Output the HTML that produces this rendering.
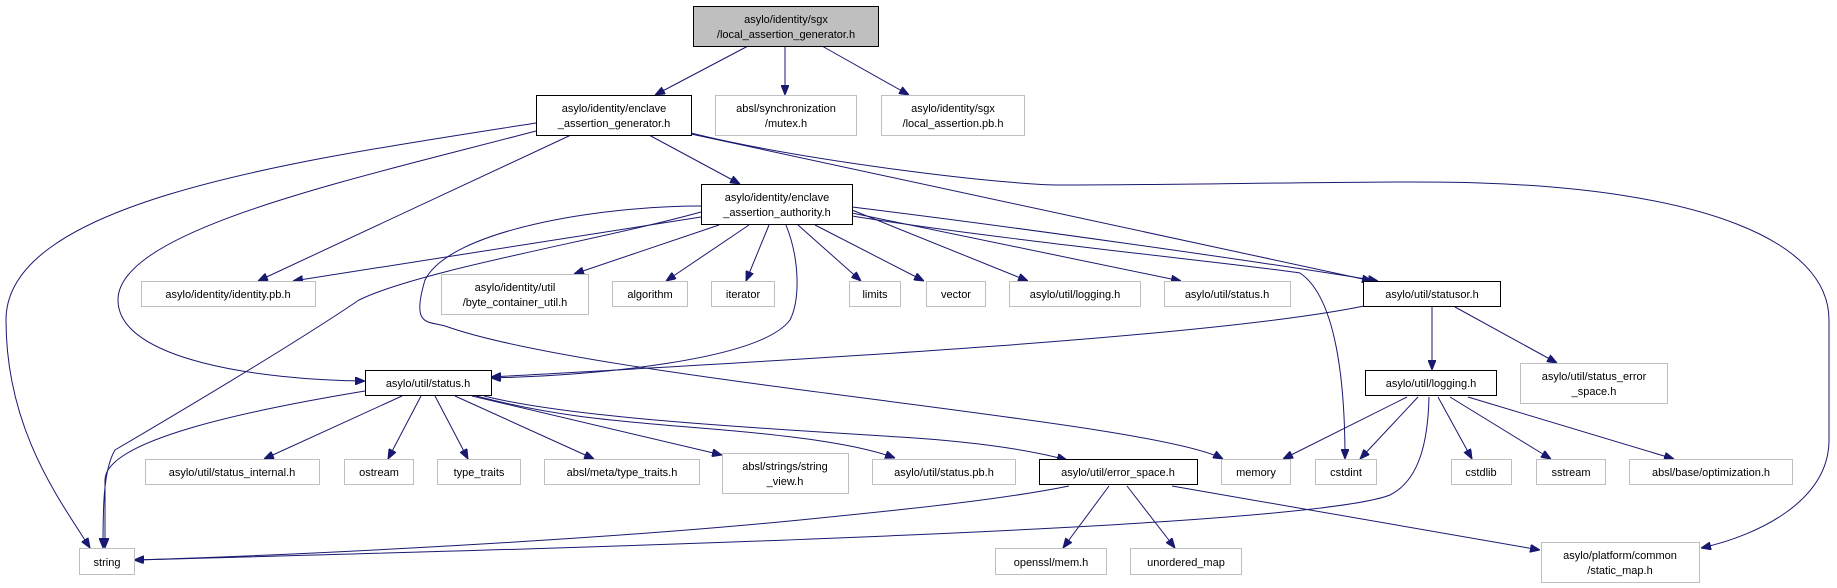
<!DOCTYPE html>
<html><head><meta charset="utf-8"><style>
html,body{margin:0;padding:0;background:#fff;}
svg{display:block}
text{font-family:"Liberation Sans",Helvetica,sans-serif;font-size:11px;fill:#000;text-anchor:middle}
.b{fill:#fff;stroke:#000;stroke-width:1}
.g{fill:#fff;stroke:#bfbfbf;stroke-width:1}
.e{fill:none;stroke:#191970;stroke-width:1}
</style></head><body>
<svg width="1837" height="588" viewBox="0 0 1837 588" xmlns="http://www.w3.org/2000/svg">
<defs>
<marker id="a" viewBox="0 0 10 8" refX="10" refY="4" markerWidth="10" markerHeight="8" markerUnits="userSpaceOnUse" orient="auto">
<path d="M0,0 L10,4 L0,8 z" fill="#191970" stroke="#191970"/>
</marker>
</defs>
<g class="e" marker-end="url(#a)">
<!-- root -->
<path d="M748,46 L655,95"/>
<path d="M785,46 L785,95"/>
<path d="M822,46 L909,95"/>
<!-- gen -->
<path d="M536,123 C300,160 6,200 6,320 C6,430 60,500 90,548"/>
<path d="M536,131 C350,180 118,230 118,300 C118,360 260,380 365,381"/>
<path d="M571,135 L258,281"/>
<path d="M649,135 L740,184"/>
<path d="M691,134 L1372,281"/>
<path d="M691,133 C800,160 1000,185 1061,185 C1200,185 1400,180 1480,183 C1700,190 1829,240 1829,320 L1829,440 C1829,500 1760,535 1701,548"/>
<!-- authority -->
<path d="M701,217 L293,281"/>
<path d="M701,212 C600,240 420,270 359,300 C300,340 200,400 115,450 C103,470 103,510 103,548"/>
<path d="M701,206 C600,206 450,230 425,280 C410,330 430,320 448,327 C600,380 1150,420 1223,459"/>
<path d="M719,225 L574,274"/>
<path d="M749,225 L666,281"/>
<path d="M769,225 L746,281"/>
<path d="M786,225 C800,260 800,300 790,320 C760,360 600,375 491,378"/>
<path d="M798,225 L861,281"/>
<path d="M815,225 L924,281"/>
<path d="M852,210 L1028,281"/>
<path d="M852,213 L1181,281"/>
<path d="M852,216 C1000,240 1250,265 1300,273 C1340,300 1345,400 1345,459"/>
<path d="M852,207 C1000,225 1250,260 1378,281"/>
<!-- statusor -->
<path d="M1364,306 C1200,340 700,365 491,377"/>
<path d="M1432,307 L1432,370"/>
<path d="M1455,307 L1557,363"/>
<!-- status.h -->
<path d="M365,391 C250,410 105,440 105,480 L105,548"/>
<path d="M402,396 L264,459"/>
<path d="M421,396 L388,459"/>
<path d="M435,396 L468,459"/>
<path d="M455,396 L594,459"/>
<path d="M472,396 L722,455"/>
<path d="M476,396 C550,415 600,420 700,428 C800,436 860,445 895,458"/>
<path d="M484,396 C560,415 700,425 900,437 C980,442 1030,450 1067,460"/>
<!-- logging -->
<path d="M1407,397 L1283,459"/>
<path d="M1418,397 L1360,459"/>
<path d="M1429,397 C1428,440 1420,480 1390,495 C1300,530 500,550 134,560"/>
<path d="M1438,397 L1472,459"/>
<path d="M1450,397 L1551,459"/>
<path d="M1468,397 L1674,459"/>
<!-- error_space -->
<path d="M1069,486 C1000,500 900,510 800,520 C600,540 300,555 134,560"/>
<path d="M1109,486 L1063,548"/>
<path d="M1127,486 L1175,548"/>
<path d="M1172,486 L1540,550"/>
</g>
<!-- nodes -->
<rect x="693.5" y="6.5" width="185" height="40" fill="#bfbfbf" stroke="#000"/>
<text x="786" y="23">asylo/identity/sgx</text><text x="786" y="38">/local_assertion_generator.h</text>
<rect class="b" x="536.5" y="95.5" width="155" height="40"/>
<text x="614" y="112">asylo/identity/enclave</text><text x="614" y="127">_assertion_generator.h</text>
<rect class="g" x="715.5" y="95.5" width="141" height="40"/>
<text x="786" y="112">absl/synchronization</text><text x="786" y="127">/mutex.h</text>
<rect class="g" x="881.5" y="95.5" width="143" height="40"/>
<text x="953" y="112">asylo/identity/sgx</text><text x="953" y="127">/local_assertion.pb.h</text>
<rect class="b" x="701.5" y="184.5" width="151" height="40"/>
<text x="777" y="201">asylo/identity/enclave</text><text x="777" y="216">_assertion_authority.h</text>
<rect class="g" x="141.5" y="281.5" width="174" height="25"/><text x="228" y="298">asylo/identity/identity.pb.h</text>
<rect class="g" x="441.5" y="274.5" width="147" height="40"/>
<text x="515" y="291">asylo/identity/util</text><text x="515" y="306">/byte_container_util.h</text>
<rect class="g" x="612.5" y="281.5" width="75" height="25"/><text x="650" y="298">algorithm</text>
<rect class="g" x="711.5" y="281.5" width="63" height="25"/><text x="743" y="298">iterator</text>
<rect class="g" x="849.5" y="281.5" width="51" height="25"/><text x="875" y="298">limits</text>
<rect class="g" x="926.5" y="281.5" width="59" height="25"/><text x="956" y="298">vector</text>
<rect class="g" x="1009.5" y="281.5" width="131" height="25"/><text x="1075" y="298">asylo/util/logging.h</text>
<rect class="g" x="1164.5" y="281.5" width="126" height="25"/><text x="1227" y="298">asylo/util/status.h</text>
<rect class="b" x="1363.5" y="281.5" width="137" height="25"/><text x="1432" y="298">asylo/util/statusor.h</text>
<rect class="b" x="365.5" y="370.5" width="126" height="25"/><text x="428" y="387">asylo/util/status.h</text>
<rect class="b" x="1365.5" y="370.5" width="131" height="25"/><text x="1431" y="387">asylo/util/logging.h</text>
<rect class="g" x="1520.5" y="363.5" width="147" height="40"/>
<text x="1594" y="380">asylo/util/status_error</text><text x="1594" y="395">_space.h</text>
<rect class="g" x="145.5" y="459.5" width="174" height="25"/><text x="232" y="476">asylo/util/status_internal.h</text>
<rect class="g" x="344.5" y="459.5" width="69" height="25"/><text x="379" y="476">ostream</text>
<rect class="g" x="437.5" y="459.5" width="83" height="25"/><text x="479" y="476">type_traits</text>
<rect class="g" x="544.5" y="459.5" width="155" height="25"/><text x="622" y="476">absl/meta/type_traits.h</text>
<rect class="g" x="722.5" y="453.5" width="126" height="40"/>
<text x="785" y="470">absl/strings/string</text><text x="785" y="485">_view.h</text>
<rect class="g" x="872.5" y="459.5" width="143" height="25"/><text x="944" y="476">asylo/util/status.pb.h</text>
<rect class="b" x="1039.5" y="459.5" width="158" height="25"/><text x="1118" y="476">asylo/util/error_space.h</text>
<rect class="g" x="1221.5" y="459.5" width="69" height="25"/><text x="1256" y="476">memory</text>
<rect class="g" x="1315.5" y="459.5" width="61" height="25"/><text x="1346" y="476">cstdint</text>
<rect class="g" x="1451.5" y="459.5" width="60" height="25"/><text x="1481" y="476">cstdlib</text>
<rect class="g" x="1536.5" y="459.5" width="69" height="25"/><text x="1571" y="476">sstream</text>
<rect class="g" x="1629.5" y="459.5" width="163" height="25"/><text x="1711" y="476">absl/base/optimization.h</text>
<rect class="g" x="79.5" y="548.5" width="55" height="26"/><text x="107" y="566">string</text>
<rect class="g" x="995.5" y="548.5" width="111" height="26"/><text x="1051" y="566">openssl/mem.h</text>
<rect class="g" x="1130.5" y="548.5" width="111" height="26"/><text x="1186" y="566">unordered_map</text>
<rect class="g" x="1541.5" y="542.5" width="158" height="40"/>
<text x="1620" y="559">asylo/platform/common</text><text x="1620" y="574">/static_map.h</text>
</svg>
</body></html>
